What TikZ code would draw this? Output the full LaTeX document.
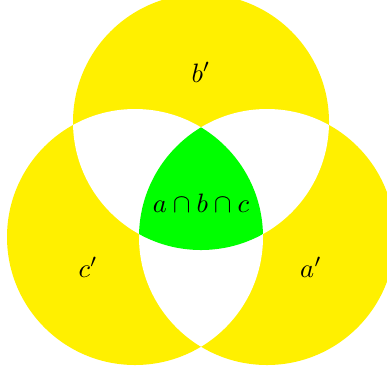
\documentclass[tikz,border=0pt]{standalone}
\begin{document}
\begin{tikzpicture}[x=0.376pt,y=-0.376pt]
\definecolor{vy}{RGB}{255,240,0}
\definecolor{vg}{RGB}{0,255,0}
\tikzset{lbl/.style={inner sep=0pt, font=\normalsize}}
\useasboundingbox (0,0) rectangle (387,373);
\clip (0,0) rectangle (387,373);
\def\cb{(201,122) circle [radius=128]}
\def\cc{(135,237) circle [radius=128]}
\def\ca{(267,237) circle [radius=128]}
\fill[vy] \cb;
\fill[vy] \cc;
\fill[vy] \ca;
\begin{scope}
  \clip \ca;
  \fill[white] \cb;
  \fill[white] \cc;
\end{scope}
\begin{scope}
  \clip \cb;
  \fill[white] \cc;
\end{scope}
\begin{scope}
  \clip \ca;
  \clip \cb;
  \fill[vg] \cc;
\end{scope}
\node[lbl] (lb) at (201,72) {$b'$};
\node[lbl] (lc) at (88,267) {$c'$};
\node[lbl] (la) at (311,267) {$a'$};
\node[lbl] (labc) at (201,203) {$a\cap b\cap c$};
\end{tikzpicture}
\end{document}
